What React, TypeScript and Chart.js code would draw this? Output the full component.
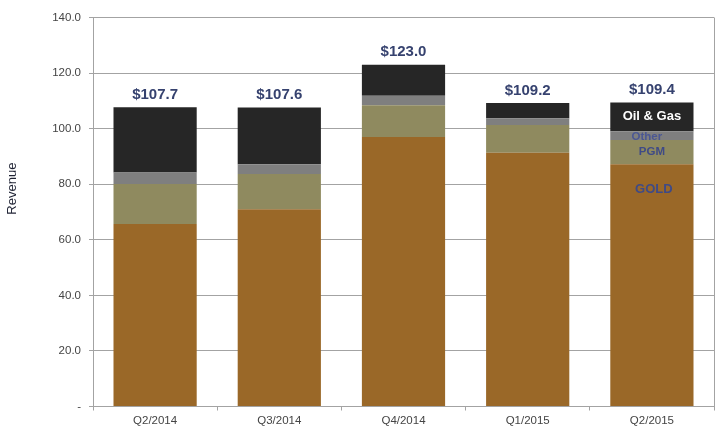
import React, { useEffect, useRef } from "react";
import { Chart, registerables } from "chart.js";

Chart.register(...registerables);

const categories = ["Q2/2014", "Q3/2014", "Q4/2014", "Q1/2015", "Q2/2015"];
const gold = [65.7, 71.0, 97.0, 91.3, 87.2];
const pgm = [14.4, 12.7, 11.4, 10.0, 8.7];
const other = [4.1, 3.5, 3.4, 2.4, 3.2];
const oilGas = [23.5, 20.4, 11.2, 5.5, 10.3];
const totals = [107.7, 107.6, 123.0, 109.2, 109.4];
const seriesNames = ["GOLD", "PGM", "Other", "Oil & Gas"];
const yTicks = [0, 20, 40, 60, 80, 100, 120, 140];

const FONT = "'Liberation Sans', Arial, sans-serif";
const GRID = "#a3a3a3";

export default function App() {
  const ref = useRef<HTMLCanvasElement | null>(null);

  useEffect(() => {
    if (!ref.current) return;

    const overlay = {
      id: "overlay",
      afterDraw(chart: any) {
        const ctx = chart.ctx;
        const area = chart.chartArea;
        ctx.save();
        // right border
        ctx.strokeStyle = GRID;
        ctx.lineWidth = 1;
        ctx.beginPath();
        ctx.moveTo(Math.round(area.right) + 0.5, area.top);
        ctx.lineTo(Math.round(area.right) + 0.5, area.bottom);
        ctx.stroke();

        // y title
        ctx.translate(12, area.top + (area.bottom - area.top) * 0.44);
        ctx.rotate(-Math.PI / 2);
        ctx.fillStyle = "#1e2233";
        ctx.font = `13px ${FONT}`;
        ctx.textAlign = "center";
        ctx.textBaseline = "middle";
        ctx.fillText("Revenue", 0, 0);
        ctx.restore();

        // totals
        const topMeta = chart.getDatasetMeta(chart.data.datasets.length - 1);
        ctx.save();
        ctx.fillStyle = "#36426f";
        ctx.font = `bold 15px ${FONT}`;
        ctx.textAlign = "center";
        ctx.textBaseline = "bottom";
        topMeta.data.forEach((el: any, i: number) => {
          ctx.fillText("$" + totals[i].toFixed(1), el.x, el.y - 5);
        });
        ctx.restore();

        // in-bar labels on last bar
        const last = categories.length - 1;
        ctx.save();
        ctx.textAlign = "center";
        ctx.textBaseline = "middle";
        chart.data.datasets.forEach((ds: any, di: number) => {
          const el: any = chart.getDatasetMeta(di).data[last];
          const mid = (el.y + el.base) / 2;
          if (di === 0) {
            ctx.fillStyle = "#3f4a86";
            ctx.font = `bold 13px ${FONT}`;
            ctx.fillText(seriesNames[di], el.x + 2, el.y + 25);
          } else if (di === 1) {
            ctx.fillStyle = "#3f4a86";
            ctx.font = `bold 11.5px ${FONT}`;
            ctx.fillText(seriesNames[di], el.x, mid);
          } else if (di === 2) {
            ctx.fillStyle = "rgba(66,80,150,0.85)";
            ctx.font = `bold 11.5px ${FONT}`;
            ctx.fillText(seriesNames[di], el.x - 5, mid + 1);
          } else {
            ctx.fillStyle = "#ffffff";
            ctx.font = `bold 13px ${FONT}`;
            ctx.fillText(seriesNames[di], el.x, mid);
          }
        });
        ctx.restore();
      },
    };

    const chart = new Chart(ref.current, {
      type: "bar",
      data: {
        labels: categories,
        datasets: [
          { label: seriesNames[0], data: gold, backgroundColor: "#9a6828" },
          { label: seriesNames[1], data: pgm, backgroundColor: "#8f8a5f" },
          { label: seriesNames[2], data: other, backgroundColor: "#7f7f7f" },
          { label: seriesNames[3], data: oilGas, backgroundColor: "#262626" },
        ],
      },
      options: {
        animation: false,
        responsive: true,
        maintainAspectRatio: false,
        layout: { padding: { left: 0, top: 17.5, right: 6, bottom: 0 } },
        datasets: { bar: { categoryPercentage: 1, barPercentage: 0.67 } },
        plugins: {
          legend: { display: false },
          tooltip: { enabled: false },
        },
        scales: {
          x: {
            stacked: true,
            grid: {
              display: true,
              drawOnChartArea: false,
              drawTicks: true,
              tickLength: 4,
              color: GRID,
              offset: true,
            },
            border: { display: true, color: GRID },
            ticks: {
              color: "#444444",
              font: { family: FONT, size: 11.5 },
              padding: 3,
              maxRotation: 0,
            },
            afterFit(scale: any) {
              scale.height = 27.5;
            },
          },
          y: {
            stacked: true,
            min: 0,
            max: 140,
            afterBuildTicks(scale: any) {
              scale.ticks = yTicks.map((v) => ({ value: v }));
            },
            grid: {
              color: GRID,
              drawTicks: true,
              tickLength: 4,
            },
            border: { display: true, color: GRID },
            ticks: {
              color: "#444444",
              font: { family: FONT, size: 11.5 },
              padding: 8,
              callback: (v: any) => (Number(v) === 0 ? "-" : Number(v).toFixed(1)),
            },
            afterFit(scale: any) {
              scale.width = 93;
            },
          },
        },
      },
      plugins: [overlay],
    });

    return () => chart.destroy();
  }, []);

  return (
    <div style={{ position: "absolute", left: 0, top: 0, width: 720, height: 434, background: "#fff" }}>
      <canvas ref={ref} />
    </div>
  );
}
